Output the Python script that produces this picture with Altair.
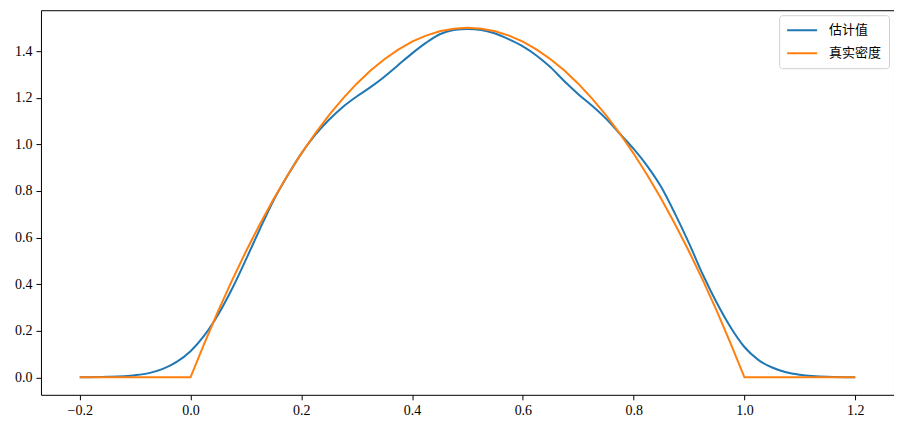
import altair as alt
import pandas as pd

series_names = ["估计值", "真实密度"]
series_colors = ["#1f77b4", "#ff7f0e"]

# Estimated density (blue)
est_x = [-0.2, -0.15, -0.1, -0.075, -0.05, -0.025, 0.0, 0.025, 0.05, 0.075, 0.1, 0.125, 0.15, 0.175,
         0.2, 0.225, 0.25, 0.275, 0.3, 0.325, 0.35, 0.375, 0.4, 0.425, 0.45, 0.475, 0.5, 0.525,
         0.55, 0.575, 0.6, 0.625, 0.65, 0.675, 0.7, 0.725, 0.75, 0.775, 0.8, 0.825, 0.85, 0.875,
         0.9, 0.925, 0.95, 0.975, 1.0, 1.025, 1.05, 1.075, 1.1, 1.15, 1.2]
est_y = [0.0, 0.002, 0.009, 0.018, 0.036, 0.066, 0.112, 0.18, 0.27, 0.38, 0.505, 0.635, 0.76, 0.865,
         0.96, 1.04, 1.105, 1.16, 1.205, 1.245, 1.29, 1.34, 1.39, 1.435, 1.472, 1.49, 1.495, 1.49,
         1.475, 1.45, 1.42, 1.38, 1.33, 1.27, 1.215, 1.165, 1.11, 1.045, 0.98, 0.905, 0.815, 0.70,
         0.575, 0.44, 0.32, 0.215, 0.13, 0.075, 0.042, 0.022, 0.011, 0.002, 0.0]

# True density (orange)
true_x = [-0.2, 0.0, 0.025, 0.05, 0.075, 0.1, 0.125, 0.15, 0.175, 0.2, 0.225, 0.25, 0.275, 0.3,
          0.325, 0.35, 0.375, 0.4, 0.425, 0.45, 0.475, 0.5, 0.525, 0.55, 0.575, 0.6, 0.625, 0.65,
          0.675, 0.7, 0.725, 0.75, 0.775, 0.8, 0.825, 0.85, 0.875, 0.9, 0.925, 0.95, 0.975, 1.0, 1.2]
true_y = [0.0, 0.0, 0.146, 0.285, 0.416, 0.54, 0.656, 0.765, 0.866, 0.96, 1.046, 1.125, 1.196, 1.26,
          1.316, 1.365, 1.406, 1.44, 1.466, 1.485, 1.496, 1.5, 1.496, 1.485, 1.466, 1.44, 1.406, 1.365,
          1.316, 1.26, 1.196, 1.125, 1.046, 0.96, 0.866, 0.765, 0.656, 0.54, 0.416, 0.285, 0.146, 0.0, 0.0]

x_ticks = [-0.2, 0.0, 0.2, 0.4, 0.6, 0.8, 1.0, 1.2]
y_ticks = [0.0, 0.2, 0.4, 0.6, 0.8, 1.0, 1.2, 1.4]

est_df = pd.DataFrame({"x": est_x, "y": est_y, "series": series_names[0]})
true_df = pd.DataFrame({"x": true_x, "y": true_y, "series": series_names[1]})

x_enc = alt.X("x:Q", scale=alt.Scale(domain=[-0.27, 1.27], nice=False, zero=False),
              axis=alt.Axis(values=x_ticks, format=".1f", title=None, grid=False))
y_enc = alt.Y("y:Q", scale=alt.Scale(domain=[-0.075, 1.575], nice=False, zero=False),
              axis=alt.Axis(values=y_ticks, format=".1f", title=None, grid=False))
color_enc = alt.Color("series:N",
                      scale=alt.Scale(domain=series_names, range=series_colors),
                      legend=alt.Legend(title=None, orient="top-right", offset=5,
                                        symbolType="stroke", symbolSize=900, symbolStrokeWidth=2,
                                        labelFont="Noto Sans CJK SC", labelFontSize=13,
                                        labelColor="black", labelOffset=11,
                                        clipHeight=16, rowPadding=7, padding=7,
                                        strokeColor="#d0d0d0", fillColor="white", cornerRadius=3))

est_line = alt.Chart(est_df).mark_line(strokeWidth=2, interpolate="monotone").encode(
    x=x_enc, y=y_enc, color=color_enc)
true_line = alt.Chart(true_df).mark_line(strokeWidth=2).encode(
    x=x_enc, y=y_enc, color=color_enc)

chart = alt.layer(est_line, true_line).properties(
    width=854, height=385,
    autosize=alt.AutoSizeParams(type="none"),
    padding={"left": 33, "top": 2, "right": 0, "bottom": 30},
).configure_view(
    stroke="black", strokeWidth=1
).configure_axis(
    domain=False, tickColor="black", tickSize=5, tickWidth=1,
    labelFont="Liberation Serif", labelFontSize=14, labelColor="black", labelPadding=4,
)

chart.save("out.html", embed_options={"renderer": "svg", "actions": False})
